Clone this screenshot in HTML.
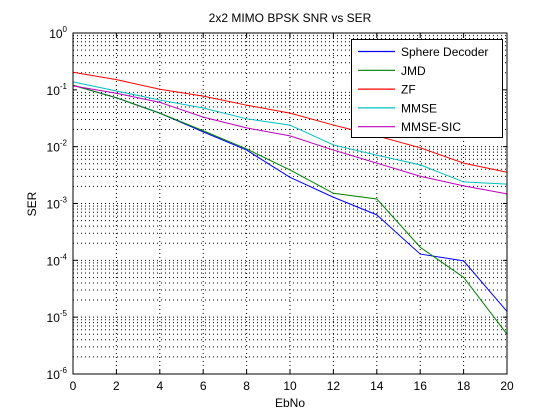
<!DOCTYPE html>
<html><head><meta charset="utf-8"><style>
body{margin:0;background:#fff}
svg{display:block;font-family:"Liberation Sans",sans-serif}
</style></head><body>
<svg id="chart" width="560" height="420">
<rect width="560" height="420" fill="#fff"/>
<rect x="73" y="33" width="434" height="341" fill="#fff" stroke="none"/>
<g id="grid"></g><g id="series"></g><g id="axes"></g>
<text x="290" y="22" font-size="12" text-anchor="middle">2x2 MIMO BPSK SNR vs SER</text>
<text x="290" y="407" font-size="12" text-anchor="middle">EbNo</text>
<text x="36" y="204" font-size="12" text-anchor="middle" transform="rotate(-90 36 204)">SER</text>
<g id="legend"></g>
</svg>
<script>
const xs=[0,2,4,6,8,10,12,14,16,18,20];
const seriesNames=["Sphere Decoder","JMD","ZF","MMSE","MMSE-SIC"];
const seriesColors=["#0000ff","#008000","#ff0000","#00bfbf","#bf00bf"];
const sphereLog=[-0.92,-1.14,-1.41,-1.74,-2.06,-2.54,-2.89,-3.2,-3.89,-4.01,-4.9];
const jmdLog=[-0.92,-1.14,-1.41,-1.72,-2.04,-2.41,-2.82,-2.92,-3.77,-4.3,-5.3];
const zfLog=[-0.69,-0.82,-0.99,-1.11,-1.27,-1.41,-1.62,-1.81,-2.02,-2.29,-2.45];
const mmseLog=[-0.86,-1.02,-1.18,-1.32,-1.51,-1.62,-1.97,-2.15,-2.32,-2.62,-2.66];
const sicLog=[-0.93,-1.06,-1.22,-1.48,-1.67,-1.81,-2.06,-2.29,-2.52,-2.69,-2.83];
const allSeries=[sphereLog,jmdLog,zfLog,mmseLog,sicLog];
const xTicks=[0,2,4,6,8,10,12,14,16,18,20];
const yDecades=[0,-1,-2,-3,-4,-5,-6];
const X0=73,X1=507,Y0=33,Y1=374;
const sx=v=>X0+(v-0)/20*(X1-X0);
const sy=l=>Y0+(0-l)/6*(Y1-Y0);
const NS="http://www.w3.org/2000/svg";
function mk(t,a,p){const e=document.createElementNS(NS,t);for(const k in a)e.setAttribute(k,a[k]);p.appendChild(e);return e;}
const grid=document.getElementById('grid'),axes=document.getElementById('axes'),ser=document.getElementById('series'),leg=document.getElementById('legend');
xTicks.forEach(v=>{if(v>0&&v<20){const l=mk('line',{x1:sx(v),x2:sx(v),y1:Y0,y2:Y1,stroke:'#000','stroke-width':1,'stroke-dasharray':'1,3'},grid);

}
const t=mk('text',{x:sx(v),y:Y1+16,'font-size':12,'text-anchor':'middle'},axes);t.textContent=v;


mk('line',{x1:sx(v),x2:sx(v),y1:Y1,y2:Y1-4,stroke:'#000'},axes);mk('line',{x1:sx(v),x2:sx(v),y1:Y0,y2:Y0+4,stroke:'#000'},axes);});
yDecades.forEach(d=>{
if(d>-6){for(let m=1;m<=9;m++){const y=sy(d-1+Math.log10(m));if(m>1||d<0){if(y>Y0+0.5&&y<Y1-0.5){const l=mk('line',{x1:X0,x2:X1,y1:y,y2:y,stroke:'#000','stroke-width':1,'stroke-dasharray':'1,3'},grid);

}}}}
const t=mk('text',{x:X0-6,y:sy(d)+5,'font-size':12,'text-anchor':'end'},axes);t.innerHTML='10<tspan dy="-6" font-size="8">'+d+'</tspan>';


mk('line',{x1:X0,x2:X0+4,y1:sy(d),y2:sy(d),stroke:'#000'},axes);mk('line',{x1:X1,x2:X1-4,y1:sy(d),y2:sy(d),stroke:'#000'},axes);});
const fr=mk('rect',{x:X0,y:Y0,width:X1-X0,height:Y1-Y0,fill:'none',stroke:'#000'},axes);


allSeries.forEach((s,i)=>{const p=mk('polyline',{points:s.map((l,j)=>sx(xs[j])+','+sy(l)).join(' '),fill:'none',stroke:seriesColors[i],'stroke-width':1},ser);

});
const lb=mk('rect',{x:351.5,y:39.5,width:151,height:98,fill:'#fff',stroke:'#000'},leg);


seriesNames.forEach((n,i)=>{const y=51.5+i*18.8;mk('line',{x1:358,x2:395,y1:y,y2:y,stroke:seriesColors[i],'stroke-width':1.2},leg);
const t=mk('text',{x:401,y:y+4.5,'font-size':12},leg);t.textContent=n;

});
</script>
</body></html>
